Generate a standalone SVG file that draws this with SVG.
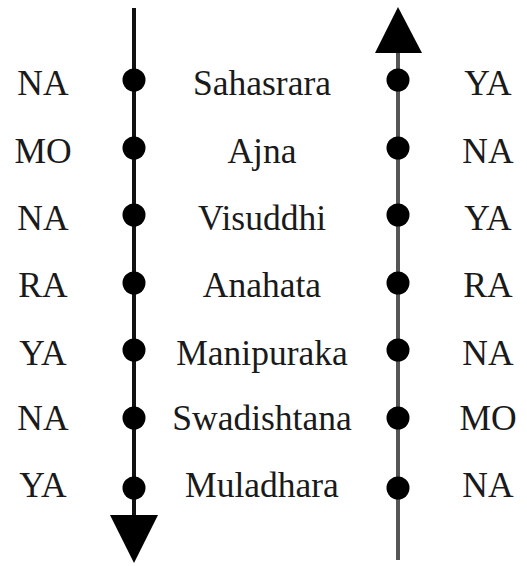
<svg xmlns="http://www.w3.org/2000/svg" width="527" height="566" viewBox="0 0 527 566">
<style>
text{font-family:"Liberation Serif","Times New Roman",serif;font-size:35.5px;fill:#1a1a1a;text-anchor:middle}
.dot{fill:#000}
</style>
<rect width="527" height="566" fill="#fff"/>
<g id="connectors">
<line x1="134" y1="8" x2="134" y2="520" stroke="#111" stroke-width="4"/>
<polygon points="110,515 158,515 134,563" fill="#000"/>
<line x1="398" y1="50" x2="398" y2="560" stroke="#555" stroke-width="4"/>
<polygon points="375,53 422,53 398,7" fill="#000"/>
</g>
<g id="row1"><text x="43" y="95">NA</text><circle class="dot" cx="134" cy="80" r="11.5"/><text x="262" y="95">Sahasrara</text><circle class="dot" cx="398" cy="80" r="11.5"/><text x="488" y="95">YA</text></g>
<g id="row2"><text x="43" y="163">MO</text><circle class="dot" cx="134" cy="148" r="11.5"/><text x="262" y="163">Ajna</text><circle class="dot" cx="398" cy="148" r="11.5"/><text x="488" y="163">NA</text></g>
<g id="row3"><text x="43" y="230">NA</text><circle class="dot" cx="134" cy="215" r="11.5"/><text x="262" y="230">Visuddhi</text><circle class="dot" cx="398" cy="215" r="11.5"/><text x="488" y="230">YA</text></g>
<g id="row4"><text x="43" y="297">RA</text><circle class="dot" cx="134" cy="283" r="11.5"/><text x="262" y="297">Anahata</text><circle class="dot" cx="398" cy="283" r="11.5"/><text x="488" y="297">RA</text></g>
<g id="row5"><text x="43" y="365">YA</text><circle class="dot" cx="134" cy="350" r="11.5"/><text x="262" y="365">Manipuraka</text><circle class="dot" cx="398" cy="350" r="11.5"/><text x="488" y="365">NA</text></g>
<g id="row6"><text x="43" y="430">NA</text><circle class="dot" cx="134" cy="418" r="11.5"/><text x="262" y="430">Swadishtana</text><circle class="dot" cx="398" cy="418" r="11.5"/><text x="488" y="430">MO</text></g>
<g id="row7"><text x="43" y="497">YA</text><circle class="dot" cx="134" cy="488" r="11.5"/><text x="262" y="497">Muladhara</text><circle class="dot" cx="398" cy="488" r="11.5"/><text x="488" y="497">NA</text></g>
</svg>
